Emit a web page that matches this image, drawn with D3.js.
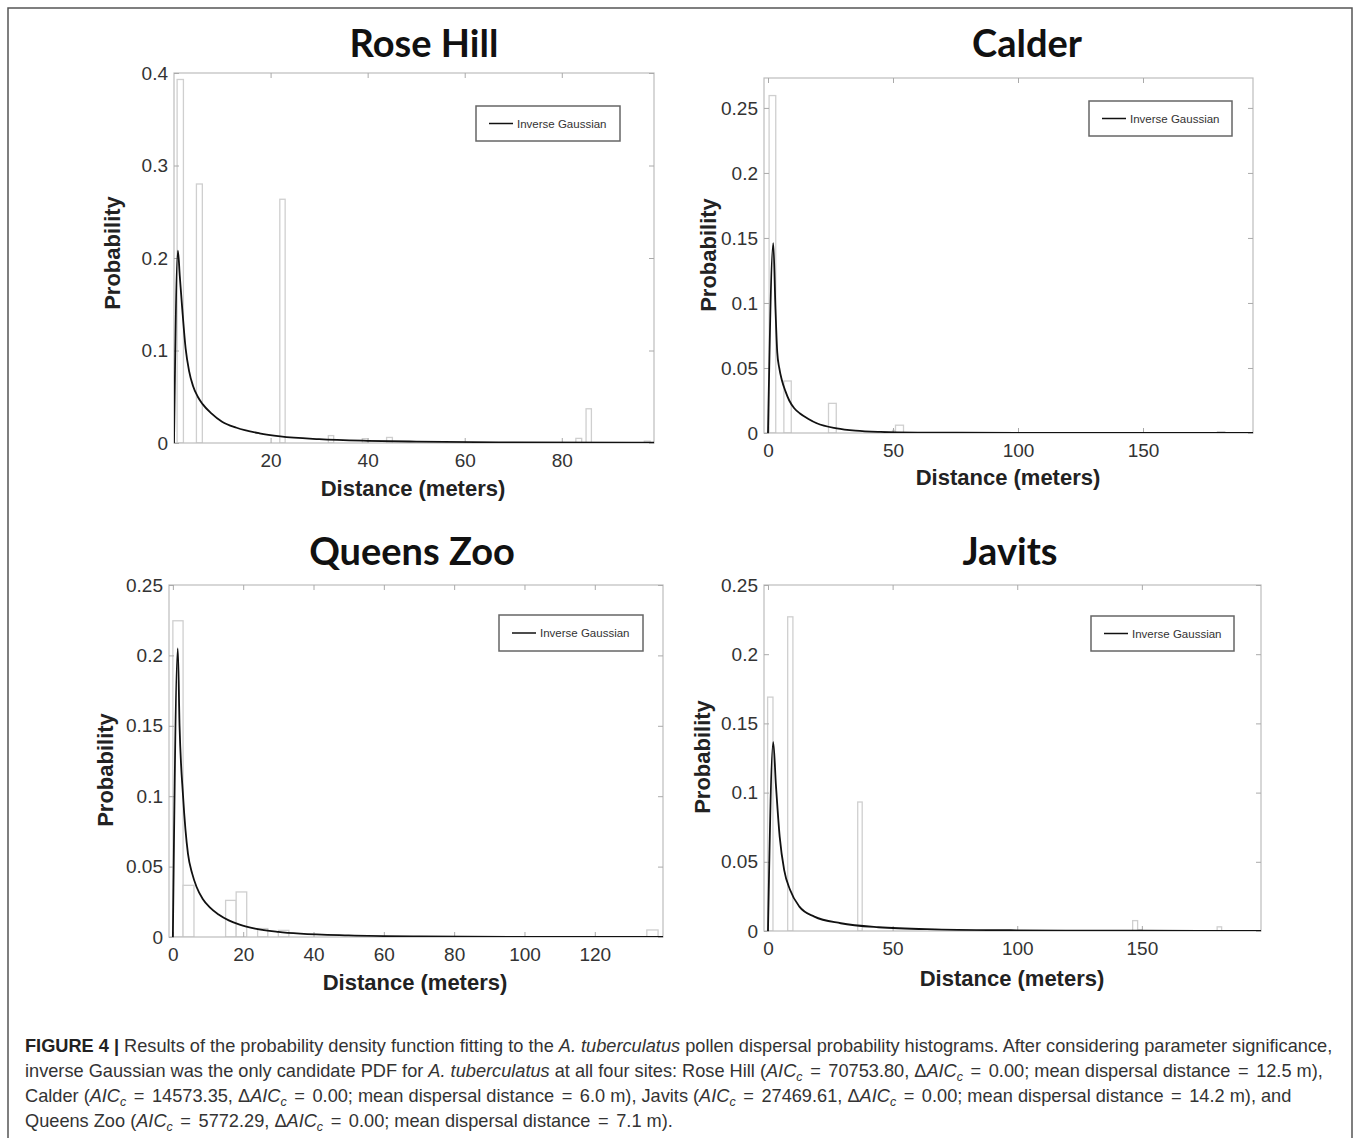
<!DOCTYPE html>
<html>
<head>
<meta charset="utf-8">
<script src="https://cdn.jsdelivr.net/npm/d3@7"></script>
<style>
  body { margin: 0; background: #fff; }
  svg { display: block; }
</style>
</head>
<body>
<div id="fig"></div>
<script>
// histogram bars: [bin start, bin end, probability]
const roseHillBars = [[0.74, 2.04, 0.393], [4.72, 5.94, 0.280], [21.9, 23.0, 0.2635], [31.9, 33.0, 0.008],
  [38.9, 40.0, 0.0047], [43.9, 45.1, 0.006], [82.9, 84.1, 0.005], [85.0, 86.1, 0.037], [97.0, 98.2, 0.002]];
const calderBars = [[0.44, 3.1, 0.2595], [6.35, 9.3, 0.040], [24.2, 27.3, 0.0228], [49.8, 51.0, 0.002],
  [51.0, 54.2, 0.006], [179.8, 182.7, 0.001]];
const queensZooBars = [[0, 2.9, 0.2246], [2.9, 6.0, 0.0367], [15, 18, 0.026], [18, 21, 0.032],
  [24.1, 27, 0.006], [30, 33, 0.0047], [134.8, 138, 0.005]];
const javitsBars = [[-0.15, 2.0, 0.169], [7.9, 10.0, 0.227], [36, 37.8, 0.0932], [146.3, 148.3, 0.0075],
  [148.3, 149.8, 0.001], [180.2, 182, 0.003]];

// fitted inverse Gaussian curves
const roseHillFitX = [0.1, 0.9, 1.3, 1.8, 2.5, 3.2, 4, 5, 6, 7.8, 10, 13, 17.7, 22, 30, 40, 50, 70, 99];
const roseHillFitY = [0, 0.208, 0.18, 0.145, 0.102, 0.078, 0.062, 0.05, 0.042, 0.032, 0.023, 0.0165, 0.0105, 0.0072, 0.0042, 0.0024, 0.0015, 0.0007, 0.0003];
const calderFitX = [0, 2.1, 3, 3.7, 4.5, 5.5, 7, 8.5, 10.5, 12.8, 16, 19.5, 27.5, 35, 45, 60, 100, 194];
const calderFitY = [0, 0.146, 0.095, 0.062, 0.05, 0.041, 0.032, 0.025, 0.019, 0.015, 0.011, 0.0075, 0.0036, 0.0018, 0.0008, 0.0003, 0.0001, 0];
const queensZooFitX = [0, 1.4, 1.9, 2.9, 4.3, 5.5, 6.75, 8.5, 10.5, 13, 15.9, 19, 23.4, 30, 36.2, 50, 70, 100, 139.4];
const queensZooFitY = [0, 0.205, 0.15, 0.1, 0.059, 0.045, 0.0355, 0.027, 0.021, 0.016, 0.0118, 0.0088, 0.006, 0.0037, 0.0024, 0.0011, 0.0004, 0.0001, 0];
const javitsFitX = [0, 2.1, 3.2, 4.7, 6.5, 8.8, 12.6, 18.6, 29.2, 44.3, 67, 100, 150, 197.8];
const javitsFitY = [0, 0.1365, 0.105, 0.068, 0.044, 0.03, 0.0176, 0.0104, 0.0056, 0.0027, 0.0012, 0.0005, 0.0002, 0.0001];

// axis ranges and ticks
const roseHillXDomain = [0.1, 99], roseHillYDomain = [0, 0.4];
const roseHillXTicks = [20, 40, 60, 80], roseHillYTicks = [0, 0.1, 0.2, 0.3, 0.4];
const calderXDomain = [-1.6, 194], calderYDomain = [0, 0.273];
const calderXTicks = [0, 50, 100, 150], calderYTicks = [0, 0.05, 0.1, 0.15, 0.2, 0.25];
const queensZooXDomain = [-1.1, 139.4], queensZooYDomain = [0, 0.25];
const queensZooXTicks = [0, 20, 40, 60, 80, 100, 120], queensZooYTicks = [0, 0.05, 0.1, 0.15, 0.2, 0.25];
const javitsXDomain = [-1.6, 197.8], javitsYDomain = [0, 0.25];
const javitsXTicks = [0, 50, 100, 150], javitsYTicks = [0, 0.05, 0.1, 0.15, 0.2, 0.25];

const panels = [
  { title: "Rose Hill", bars: roseHillBars, fx: roseHillFitX, fy: roseHillFitY,
    xd: roseHillXDomain, yd: roseHillYDomain, xt: roseHillXTicks, yt: roseHillYTicks,
    box: [174, 654, 73, 443], titleXY: [424, 44], legend: [476, 106, 144, 35],
    yLab: [112, 253], xLab: [413, 488] },
  { title: "Calder", bars: calderBars, fx: calderFitX, fy: calderFitY,
    xd: calderXDomain, yd: calderYDomain, xt: calderXTicks, yt: calderYTicks,
    box: [764, 1253, 78, 433], titleXY: [1027, 44], legend: [1089, 101, 143, 35],
    yLab: [708, 255], xLab: [1008, 477] },
  { title: "Queens Zoo", bars: queensZooBars, fx: queensZooFitX, fy: queensZooFitY,
    xd: queensZooXDomain, yd: queensZooYDomain, xt: queensZooXTicks, yt: queensZooYTicks,
    box: [169, 663, 585, 937], titleXY: [412, 552], legend: [499, 615, 144, 36],
    yLab: [105, 770], xLab: [415, 982] },
  { title: "Javits", bars: javitsBars, fx: javitsFitX, fy: javitsFitY,
    xd: javitsXDomain, yd: javitsYDomain, xt: javitsXTicks, yt: javitsYTicks,
    box: [764, 1261, 585, 931], titleXY: [1010, 552], legend: [1091, 616, 143, 35],
    yLab: [702, 757], xLab: [1012, 978] }
];

const W = 1358, H = 1138;
const svg = d3.select("#fig").append("svg").attr("width", W).attr("height", H);

// outer figure frame
svg.append("rect")
  .attr("x", 8).attr("y", 8).attr("width", 1344).attr("height", 1150)
  .attr("fill", "none").attr("stroke", "#555").attr("stroke-width", 1.5);

const tickFmt = d => String(+d.toFixed(2));
const sans = "'Liberation Sans', Arial, Helvetica, sans-serif";

panels.forEach((p, i) => {
  const [x0, x1, y0, y1] = p.box;
  const x = d3.scaleLinear().domain(p.xd).range([x0, x1]);
  const y = d3.scaleLinear().domain(p.yd).range([y1, y0]);

  const clipId = "clip" + i;
  svg.append("clipPath").attr("id", clipId)
    .append("rect").attr("x", x0).attr("y", y0).attr("width", x1 - x0).attr("height", y1 - y0);

  const g = svg.append("g");

  // histogram bars
  g.append("g").attr("clip-path", `url(#${clipId})`)
    .selectAll("rect")
    .data(p.bars)
    .enter()
    .append("rect")
    .attr("x", d => x(d[0]))
    .attr("y", d => y(d[2]))
    .attr("width", d => x(d[1]) - x(d[0]))
    .attr("height", d => y(0) - y(d[2]))
    .attr("fill", "#fff")
    .attr("stroke", "#cfcfcf")
    .attr("stroke-width", 1.3);

  // axes box
  g.append("rect")
    .attr("x", x0).attr("y", y0).attr("width", x1 - x0).attr("height", y1 - y0)
    .attr("fill", "none").attr("stroke", "#bdbdbd").attr("stroke-width", 1.2);

  const styleAxis = sel => {
    sel.select(".domain").remove();
    sel.selectAll(".tick line").attr("stroke", "#aaa");
    sel.selectAll(".tick text").attr("fill", "#333").style("font-family", sans).style("font-size", "19px");
  };

  g.append("g").attr("transform", `translate(0,${y1})`)
    .call(d3.axisBottom(x).tickValues(p.xt).tickFormat(tickFmt).tickSize(-5).tickPadding(11))
    .call(styleAxis);
  g.append("g").attr("transform", `translate(0,${y0})`)
    .call(d3.axisTop(x).tickValues(p.xt).tickFormat("").tickSize(-5))
    .call(styleAxis);
  g.append("g").attr("transform", `translate(${x0},0)`)
    .call(d3.axisLeft(y).tickValues(p.yt).tickFormat(tickFmt).tickSize(-5).tickPadding(6))
    .call(styleAxis);
  g.append("g").attr("transform", `translate(${x1},0)`)
    .call(d3.axisRight(y).tickValues(p.yt).tickFormat("").tickSize(-5))
    .call(styleAxis);

  // fitted curve
  const pts = p.fx.map((v, k) => [v, p.fy[k]]);
  g.append("path")
    .datum(pts)
    .attr("clip-path", `url(#${clipId})`)
    .attr("fill", "none")
    .attr("stroke", "#111")
    .attr("stroke-width", 1.8)
    .attr("d", d3.line().x(d => x(d[0])).y(d => y(d[1])).curve(d3.curveMonotoneX));

  // legend
  const [lx, ly, lw, lh] = p.legend;
  const leg = g.append("g").attr("transform", `translate(${lx},${ly})`);
  leg.append("rect").attr("width", lw).attr("height", lh)
    .attr("fill", "#fff").attr("stroke", "#666").attr("stroke-width", 1.5);
  leg.append("line").attr("x1", 13).attr("x2", 37).attr("y1", lh / 2).attr("y2", lh / 2)
    .attr("stroke", "#111").attr("stroke-width", 1.5);
  leg.append("text").attr("x", 41).attr("y", lh / 2).attr("dy", "0.35em")
    .style("font-family", sans).style("font-size", "11.5px").attr("fill", "#333")
    .text("Inverse Gaussian");

  // title and axis labels
  svg.append("text")
    .attr("x", p.titleXY[0]).attr("y", p.titleXY[1]).attr("dy", "0.35em")
    .attr("text-anchor", "middle")
    .style("font-family", "Lato, 'Open Sans', sans-serif").style("font-weight", "bold")
    .style("font-size", "38px").attr("fill", "#111")
    .text(p.title);

  svg.append("text")
    .attr("transform", `translate(${p.yLab[0]},${p.yLab[1]}) rotate(-90)`)
    .attr("dy", "0.35em").attr("text-anchor", "middle")
    .style("font-family", sans).style("font-weight", "bold").style("font-size", "22px")
    .attr("fill", "#222").text("Probability");

  svg.append("text")
    .attr("x", p.xLab[0]).attr("y", p.xLab[1]).attr("dy", "0.35em").attr("text-anchor", "middle")
    .style("font-family", sans).style("font-weight", "bold").style("font-size", "22px")
    .attr("fill", "#222").text("Distance (meters)");
});

// caption
const caption = svg.append("g")
  .style("font-family", sans).style("font-size", "18.2px").attr("fill", "#333");

function plain(t, str, dy) {
  // plain text; "=" signs get a little extra room, like the typeset original
  str.split("=").forEach((part, k) => {
    if (k > 0) t.append("tspan").attr("dx", 2.5).text("=");
    const s = t.append("tspan").text(part);
    if (k > 0) s.attr("dx", 2.5);
    if (k === 0 && dy) s.attr("dy", dy);
  });
}

function aic(t, prefix, rest) {
  // [prefix] AIC_c (italic, subscript c) followed by plain text back on the baseline
  if (prefix) t.append("tspan").text(prefix);
  t.append("tspan").style("font-style", "italic").text("AIC");
  t.append("tspan").style("font-style", "italic").style("font-size", "12.5px").attr("dy", 4).text("c");
  plain(t, rest, -4);
}

const l1 = caption.append("text").attr("x", 25).attr("y", 1052);
l1.append("tspan").style("font-weight", "bold").attr("fill", "#222").text("FIGURE 4 | ");
l1.append("tspan").text("Results of the probability density function fitting to the ");
l1.append("tspan").style("font-style", "italic").text("A. tuberculatus");
l1.append("tspan").text(" pollen dispersal probability histograms. After considering parameter significance,");

const l2 = caption.append("text").attr("x", 25).attr("y", 1077);
l2.append("tspan").text("inverse Gaussian was the only candidate PDF for ");
l2.append("tspan").style("font-style", "italic").text("A. tuberculatus");
l2.append("tspan").text(" at all four sites: Rose Hill (");
aic(l2, "", " = 70753.80, ");
aic(l2, "Δ", " = 0.00; mean dispersal distance = 12.5 m),");

const l3 = caption.append("text").attr("x", 25).attr("y", 1102);
l3.append("tspan").text("Calder (");
aic(l3, "", " = 14573.35, ");
aic(l3, "Δ", " = 0.00; mean dispersal distance = 6.0 m), Javits (");
aic(l3, "", " = 27469.61, ");
aic(l3, "Δ", " = 0.00; mean dispersal distance = 14.2 m), and");

const l4 = caption.append("text").attr("x", 25).attr("y", 1127);
l4.append("tspan").text("Queens Zoo (");
aic(l4, "", " = 5772.29, ");
aic(l4, "Δ", " = 0.00; mean dispersal distance = 7.1 m).");
</script>
</body>
</html>
